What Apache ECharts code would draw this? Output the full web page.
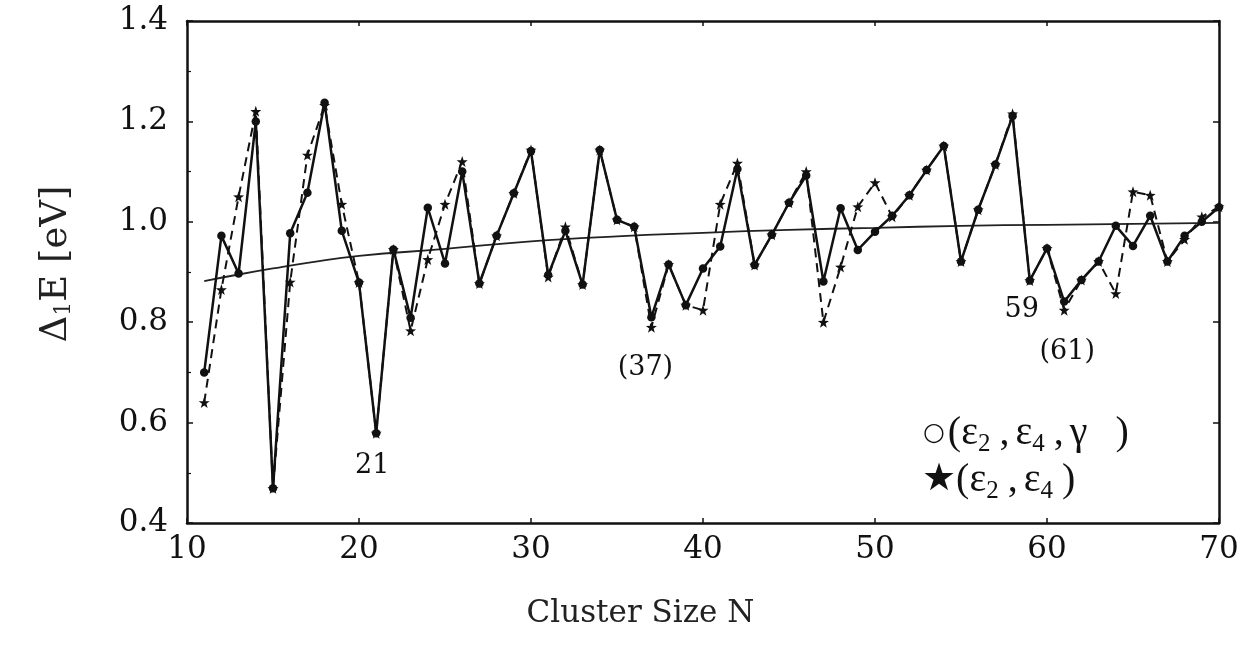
<!DOCTYPE html>
<html>
<head>
<meta charset="utf-8">
<script src="https://cdn.jsdelivr.net/npm/echarts@6/dist/echarts.min.js"></script>
<style>
  html, body { margin: 0; padding: 0; background: #fff; }
  #chart { width: 1252px; height: 648px; }
</style>
</head>
<body>
<div id="chart"></div>
<script>
// Cluster sizes N = 11 ... 70
const clusterSizes = [];
for (let n = 11; n <= 70; n++) clusterSizes.push(n);

// Δ1E [eV] with deformation (ε2, ε4, γ)
const gapFull = [
  0.70, 0.972, 0.897, 1.20, 0.469, 0.977, 1.058, 1.237, 0.982, 0.879,
  0.579, 0.945, 0.809, 1.028, 0.917, 1.10, 0.877, 0.972, 1.057, 1.141,
  0.894, 0.982, 0.875, 1.143, 1.004, 0.990, 0.810, 0.915, 0.834, 0.907,
  0.951, 1.105, 0.914, 0.974, 1.038, 1.092, 0.881, 1.027, 0.944, 0.980,
  1.012, 1.053, 1.103, 1.151, 0.921, 1.024, 1.114, 1.211, 0.883, 0.947,
  0.841, 0.884, 0.921, 0.992, 0.952, 1.012, 0.921, 0.972, 1.000, 1.029
];

// Δ1E [eV] with deformation (ε2, ε4) only
const gapAxial = [
  0.64, 0.865, 1.05, 1.22, 0.469, 0.88, 1.133, 1.232, 1.035, 0.879,
  0.579, 0.945, 0.783, 0.925, 1.035, 1.12, 0.877, 0.972, 1.057, 1.143,
  0.89, 0.99, 0.875, 1.143, 1.004, 0.990, 0.79, 0.915, 0.834, 0.824,
  1.035, 1.117, 0.914, 0.974, 1.038, 1.10, 0.80, 0.91, 1.03, 1.078,
  1.01, 1.053, 1.103, 1.151, 0.921, 1.024, 1.114, 1.215, 0.883, 0.947,
  0.824, 0.884, 0.921, 0.857, 1.06, 1.053, 0.921, 0.965, 1.01, 1.03
];

// Smooth average trend
const trendN = [11, 13, 15, 17, 20, 25, 30, 35, 40, 45, 50, 55, 60, 65, 70];
const trendE = [0.882, 0.895, 0.907, 0.918, 0.932, 0.946, 0.961, 0.971, 0.978, 0.984, 0.988, 0.992, 0.994, 0.996, 0.998];

// Labelled cluster sizes
const notedN = [21, 37, 59, 61];
const notedText = ['21', '(37)', '59', '(61)'];
const notedOffset = [[-4, 33], [-6, 51], [-8, 29], [3, 50]];

const xTicks = [10, 20, 30, 40, 50, 60, 70];

const serif = '"DejaVu Serif", "Liberation Serif", serif';
const times = '"Liberation Serif", "DejaVu Serif", serif';
const starPath = 'path://M0,-10 L2.35,-3.24 L9.51,-3.09 L3.8,1.24 L5.88,8.09 L0,4 L-5.88,8.09 L-3.8,1.24 L-9.51,-3.09 L-2.35,-3.24 Z';

const pairs = (xs, ys) => xs.map((x, i) => [x, ys[i]]);

const chart = echarts.init(document.getElementById('chart'), null, { renderer: 'canvas' });

const axisLineStyle = { color: '#111', width: 2.5 };
const tickStyle = { color: '#111', width: 1.5 };

// rich-text styles for the key at the lower right
const keyRich = {
  c: { fontFamily: '"DejaVu Sans", sans-serif', fontSize: 25, fill: '#111', lineHeight: 48, verticalAlign: 'middle', padding: [0, 3, 0, 0] },
  k: { fontFamily: '"DejaVu Sans", sans-serif', fontSize: 38, fill: '#111', lineHeight: 48, verticalAlign: 'middle' },
  t: { fontFamily: times, fontSize: 40, fill: '#111', lineHeight: 48, verticalAlign: 'middle' },
  e: { fontFamily: times, fontSize: 40, fill: '#111', lineHeight: 48, verticalAlign: 'middle', padding: [0, 0, 0, 6] },
  g: { fontFamily: times, fontSize: 40, fill: '#111', lineHeight: 48, verticalAlign: 'middle', padding: [0, 28, 0, 6] },
  s: { fontFamily: times, fontSize: 25, fill: '#111', lineHeight: 48, verticalAlign: 'bottom', padding: [0, 9, 0, 0] }
};

chart.setOption({
  animation: false,
  backgroundColor: '#fff',
  grid: { left: 187, right: 33, top: 21, bottom: 125, containLabel: false },
  xAxis: [{
    type: 'value', min: 10, max: 70, interval: 10,
    axisLine: { show: true, lineStyle: axisLineStyle },
    axisTick: { show: true, inside: true, length: 5, lineStyle: tickStyle },
    splitLine: { show: false },
    axisLabel: { fontFamily: serif, fontSize: 31, color: '#111', margin: 11,
      formatter: v => (xTicks.includes(v) ? String(v) : '') },
    name: 'Cluster Size N', nameLocation: 'middle', nameGap: 75,
    nameTextStyle: { fontFamily: serif, fontSize: 31, color: '#222', padding: [0, 125, 0, 0] }
  }, {
    type: 'value', min: 10, max: 70, interval: 10, position: 'top',
    axisLine: { show: true, lineStyle: axisLineStyle },
    axisTick: { show: true, inside: true, length: 5, lineStyle: tickStyle },
    axisLabel: { show: false }, splitLine: { show: false }
  }],
  yAxis: [{
    type: 'value', min: 0.4, max: 1.4, interval: 0.2,
    axisLine: { show: true, lineStyle: axisLineStyle },
    axisTick: { show: true, inside: true, length: 6, lineStyle: tickStyle },
    minorTick: { show: true, splitNumber: 2, length: 4, lineStyle: { color: '#111', width: 1.2 } },
    splitLine: { show: false },
    axisLabel: { fontFamily: serif, fontSize: 31, color: '#111', margin: 19,
      formatter: v => v.toFixed(1) },
    name: '{d|Δ}{s|1}{d|E [eV]}', nameLocation: 'middle', nameGap: 112, nameRotate: 90,
    nameTextStyle: {
      color: '#222', padding: [0, 0, 0, 16],
      rich: {
        d: { fontFamily: serif, fontSize: 37, color: '#222', lineHeight: 44, verticalAlign: 'bottom' },
        s: { fontFamily: serif, fontSize: 22, color: '#222', lineHeight: 30, verticalAlign: 'bottom' }
      }
    }
  }, {
    type: 'value', min: 0.4, max: 1.4, interval: 0.2, position: 'right',
    axisLine: { show: true, lineStyle: axisLineStyle },
    axisTick: { show: true, inside: true, length: 6, lineStyle: tickStyle },
    axisLabel: { show: false }, splitLine: { show: false }
  }],
  series: [
    {
      name: 'trend', type: 'line', smooth: true, showSymbol: false,
      data: pairs(trendN, trendE),
      lineStyle: { color: '#222', width: 1.8 }, z: 2
    },
    {
      name: '(ε2,ε4)', type: 'line', data: pairs(clusterSizes, gapAxial),
      symbol: starPath, symbolSize: 11,
      itemStyle: { color: '#111' },
      lineStyle: { color: '#111', width: 2, type: [9, 6] }, z: 3
    },
    {
      name: '(ε2,ε4,γ)', type: 'line', data: pairs(clusterSizes, gapFull),
      symbol: 'circle', symbolSize: 8.5,
      itemStyle: { color: '#111' },
      lineStyle: { color: '#111', width: 2.5 }, z: 4,
      markPoint: {
        symbol: 'circle', symbolSize: 0,
        data: notedN.map((n, i) => ({
          coord: [n, gapFull[clusterSizes.indexOf(n)]],
          label: { show: true, formatter: notedText[i], offset: notedOffset[i],
            fontFamily: serif, fontSize: 27, color: '#111' }
        }))
      }
    }
  ],
  graphic: [
    {
      type: 'text', left: 923, top: 413,
      style: { text: '{c|○}{t|(ε}{s|2}{t|,}{e|ε}{s|4}{t|,}{g|γ}{t|)}', rich: keyRich }
    },
    {
      type: 'text', left: 922, top: 460,
      style: { text: '{k|★}{t|(ε}{s|2}{t|,}{e|ε}{s|4}{t|)}', rich: keyRich }
    }
  ]
});
</script>
</body>
</html>
